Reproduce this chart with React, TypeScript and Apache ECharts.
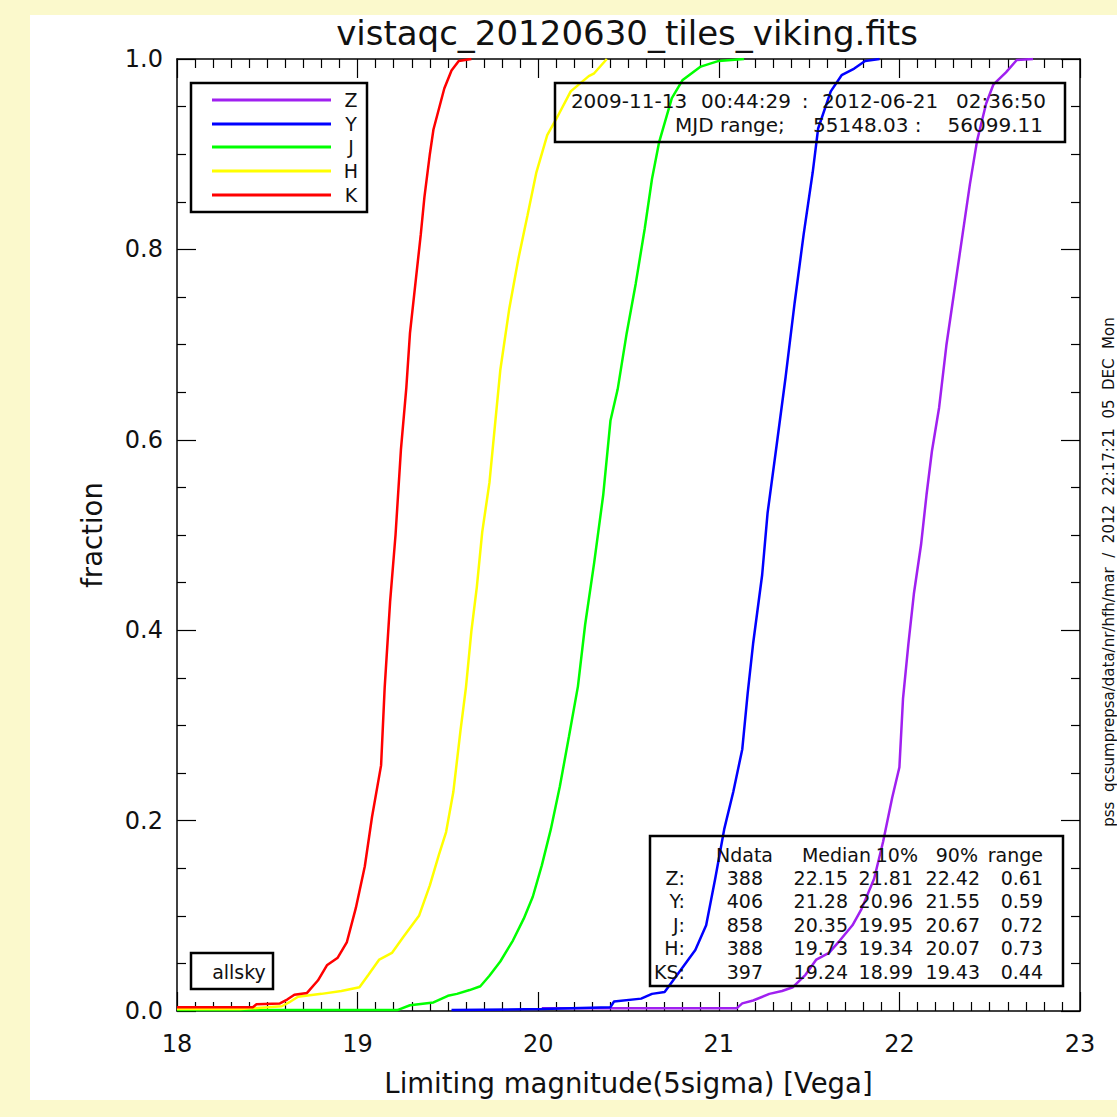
import React, { useEffect, useRef } from "react";
import * as echarts from "echarts";

const TITLE = "vistaqc_20120630_tiles_viking.fits";
const X_NAME = "Limiting magnitude(5sigma) [Vega]";
const Y_NAME = "fraction";
const SIDE_TEXT = "pss  qcsumprepsa/data/nr/hfh/mar  /  2012  22:17:21  05  DEC  Mon";
const TAG = "allsky";

const bandNames = ["Z", "Y", "J", "H", "K"];
const bandColors = ["#A020F0", "#0000FF", "#00FF00", "#FFFF00", "#FF0000"];

const zMag = [20.02, 21.1, 21.13, 21.19, 21.28, 21.35, 21.41, 21.48, 21.54, 21.61, 21.67, 21.74, 21.79, 21.86, 21.91, 21.96, 22.0, 22.02, 22.05, 22.08, 22.12, 22.15, 22.18, 22.22, 22.26, 22.3, 22.35, 22.39, 22.43, 22.48, 22.52, 22.59, 22.65, 22.74];
const zFrac = [0.003, 0.003, 0.008, 0.011, 0.018, 0.021, 0.025, 0.038, 0.054, 0.061, 0.074, 0.09, 0.107, 0.139, 0.178, 0.224, 0.256, 0.328, 0.386, 0.438, 0.49, 0.542, 0.588, 0.634, 0.699, 0.751, 0.816, 0.868, 0.914, 0.953, 0.973, 0.986, 0.999, 1.0];

const yMag = [19.52, 20.02, 20.4, 20.42, 20.57, 20.63, 20.7, 20.77, 20.87, 20.93, 20.98, 21.03, 21.08, 21.13, 21.16, 21.19, 21.24, 21.27, 21.32, 21.37, 21.42, 21.47, 21.52, 21.55, 21.62, 21.68, 21.75, 21.81, 21.89];
const yFrac = [0.001, 0.002, 0.004, 0.01, 0.013, 0.018, 0.02, 0.038, 0.064, 0.09, 0.139, 0.191, 0.23, 0.275, 0.334, 0.386, 0.458, 0.523, 0.594, 0.666, 0.744, 0.816, 0.881, 0.927, 0.966, 0.983, 0.99, 0.998, 1.0];

const jMag = [18.0, 19.22, 19.29, 19.42, 19.5, 19.55, 19.62, 19.68, 19.73, 19.79, 19.86, 19.92, 19.97, 20.02, 20.07, 20.12, 20.17, 20.22, 20.26, 20.31, 20.36, 20.4, 20.44, 20.49, 20.54, 20.59, 20.63, 20.67, 20.74, 20.8, 20.9, 21.0, 21.14];
const jFrac = [0.001, 0.001, 0.006, 0.009, 0.016, 0.018, 0.022, 0.026, 0.037, 0.052, 0.074, 0.097, 0.12, 0.153, 0.191, 0.236, 0.288, 0.341, 0.406, 0.471, 0.542, 0.62, 0.653, 0.712, 0.764, 0.822, 0.874, 0.913, 0.959, 0.978, 0.992, 0.998, 1.0];

const hMag = [18.0, 18.35, 18.58, 18.62, 18.67, 18.8, 18.91, 19.01, 19.06, 19.12, 19.19, 19.25, 19.34, 19.4, 19.45, 19.49, 19.53, 19.57, 19.6, 19.63, 19.66, 19.69, 19.73, 19.76, 19.79, 19.84, 19.89, 19.94, 19.99, 20.05, 20.1, 20.18, 20.28, 20.31, 20.38];
const hFrac = [0.002, 0.002, 0.005, 0.009, 0.015, 0.018, 0.021, 0.025, 0.038, 0.054, 0.061, 0.077, 0.1, 0.132, 0.164, 0.188, 0.23, 0.295, 0.34, 0.399, 0.445, 0.503, 0.555, 0.614, 0.673, 0.738, 0.79, 0.835, 0.881, 0.92, 0.937, 0.966, 0.982, 0.985, 1.0];

const kMag = [18.0, 18.42, 18.44, 18.57, 18.61, 18.65, 18.72, 18.78, 18.83, 18.89, 18.94, 18.99, 19.04, 19.08, 19.13, 19.15, 19.18, 19.21, 19.24, 19.27, 19.29, 19.32, 19.35, 19.37, 19.4, 19.42, 19.48, 19.52, 19.56, 19.63];
const kFrac = [0.004, 0.004, 0.007, 0.008, 0.012, 0.017, 0.019, 0.032, 0.048, 0.056, 0.072, 0.108, 0.152, 0.204, 0.258, 0.34, 0.43, 0.5, 0.59, 0.655, 0.712, 0.764, 0.816, 0.855, 0.9, 0.926, 0.969, 0.988, 0.998, 1.0];

const bandMags = [zMag, yMag, jMag, hMag, kMag];
const bandFracs = [zFrac, yFrac, jFrac, hFrac, kFrac];

const dateParts = ["2009-11-13", "00:44:29", ":", "2012-06-21", "02:36:50"];
const mjdParts = ["MJD range;", "55148.03 :", "56099.11"];

const statsHeader = ["Ndata", "Median", "10%", "90%", "range"];
const statsRows = [
  ["Z:", "388", "22.15", "21.81", "22.42", "0.61"],
  ["Y:", "406", "21.28", "20.96", "21.55", "0.59"],
  ["J:", "858", "20.35", "19.95", "20.67", "0.72"],
  ["H:", "388", "19.73", "19.34", "20.07", "0.73"],
  ["KS:", "397", "19.24", "18.99", "19.43", "0.44"],
];

const FONT = "'DejaVu Sans', sans-serif";
const INK = "#111";

function txt(text: string, x: number, y: number, size: number, align = "left", extra: any = {}) {
  return {
    type: "text",
    x,
    y,
    silent: true,
    z: 10,
    ...extra,
    style: {
      text,
      fontSize: size,
      fontFamily: FONT,
      fill: INK,
      textAlign: align,
      align,
      textVerticalAlign: "middle",
      verticalAlign: "middle",
    },
  };
}

function box(x: number, y: number, w: number, h: number) {
  return {
    type: "rect",
    silent: true,
    z: 10,
    shape: { x, y, width: w, height: h },
    style: { fill: "none", stroke: "#000", lineWidth: 2.5 },
  };
}

export default function App() {
  const ref = useRef<HTMLDivElement>(null);
  useEffect(() => {
    if (!ref.current) return;
    const chart = echarts.init(ref.current, null, { renderer: "svg" });

    const axisCommon = (interval: number, minorSplit: number) => ({
      type: "value",
      interval,
      axisLine: { show: true, onZero: false, lineStyle: { color: "#000", width: 1.5 } },
      axisTick: { show: true, inside: true, length: 19, lineStyle: { color: "#000", width: 1.2 } },
      minorTick: { show: true, splitNumber: minorSplit, length: 9, lineStyle: { color: "#000", width: 1.2 } },
      splitLine: { show: false },
      minorSplitLine: { show: false },
    });

    const graphics: any[] = [];
    graphics.push({
      type: "rect",
      silent: true,
      z: -10,
      shape: { x: 30, y: 15, width: 1087, height: 1085 },
      style: { fill: "#ffffff" },
    });
    graphics.push(txt(TITLE, 627, 33, 34, "center"));
    graphics.push(
      txt(SIDE_TEXT, 1109, 572, 15, "center", { rotation: Math.PI / 2 })
    );

    // legend box
    graphics.push(box(191, 83, 176, 129));
    const legendY = [100, 124, 147, 171, 195];
    bandNames.forEach((n, i) => {
      graphics.push({
        type: "line",
        silent: true,
        z: 10,
        shape: { x1: 212, y1: legendY[i], x2: 331, y2: legendY[i] },
        style: { stroke: bandColors[i], lineWidth: 3 },
      });
      graphics.push(txt(n, 351, legendY[i], 19, "center"));
    });

    // date box
    graphics.push(box(555, 83, 510, 59));
    const dateCx = [629, 746, 805, 880, 1001];
    dateParts.forEach((p, i) => graphics.push(txt(p, dateCx[i], 101, 20, "center")));
    graphics.push(txt(mjdParts[0], 675, 125, 20, "left"));
    graphics.push(txt(mjdParts[1], 813, 125, 20, "left"));
    graphics.push(txt(mjdParts[2], 1043, 125, 20, "right"));

    // stats box
    graphics.push(box(650, 836, 413, 150));
    const headRight = [773, 871, 918, 978, 1043];
    statsHeader.forEach((h, i) => graphics.push(txt(h, headRight[i], 855, 19, "right")));
    const colRight = [685, 763, 848, 913, 980, 1043];
    const rowY = [878, 901, 925, 948, 972];
    statsRows.forEach((r, ri) =>
      r.forEach((c, ci) => graphics.push(txt(c, colRight[ci], rowY[ri], 19, "right")))
    );

    // allsky box
    graphics.push(box(191, 953, 82, 36));
    graphics.push(txt(TAG, 239, 972, 19, "center"));

    chart.setOption({
      animation: false,
      backgroundColor: "#FBF9CC",
      grid: { left: 177, top: 59, width: 903, height: 952, containLabel: false },
      xAxis: [
        {
          ...axisCommon(1, 10),
          min: 18,
          max: 23,
          position: "bottom",
          axisLabel: { show: true, fontSize: 24, color: INK, fontFamily: FONT, margin: 21 },
          name: X_NAME,
          nameLocation: "middle",
          nameGap: 58,
          nameTextStyle: { fontSize: 27.5, color: INK, fontFamily: FONT },
        },
        {
          ...axisCommon(1, 10),
          min: 18,
          max: 23,
          position: "top",
          axisLabel: { show: false },
        },
      ],
      yAxis: [
        {
          ...axisCommon(0.2, 4),
          min: 0,
          max: 1,
          position: "left",
          axisLabel: {
            show: true,
            fontSize: 24,
            color: INK,
            fontFamily: FONT,
            margin: 14,
            formatter: (v: number) => v.toFixed(1),
          },
          name: Y_NAME,
          nameLocation: "middle",
          nameGap: 71,
          nameTextStyle: { fontSize: 27.5, color: INK, fontFamily: FONT },
        },
        {
          ...axisCommon(0.2, 4),
          min: 0,
          max: 1,
          position: "right",
          axisLabel: { show: false },
        },
      ],
      series: bandNames.map((n, i) => ({
        name: n,
        type: "line",
        xAxisIndex: 0,
        yAxisIndex: 0,
        showSymbol: false,
        symbol: "none",
        clip: true,
        lineStyle: { color: bandColors[i], width: 2.5 },
        data: bandMags[i].map((m, k) => [m, bandFracs[i][k]]),
        z: 3 + i,
      })),
      graphic: { elements: graphics },
    });
    return () => chart.dispose();
  }, []);
  return (
    <div
      ref={ref}
      style={{ position: "fixed", left: 0, top: 0, width: 1117, height: 1117 }}
    />
  );
}
